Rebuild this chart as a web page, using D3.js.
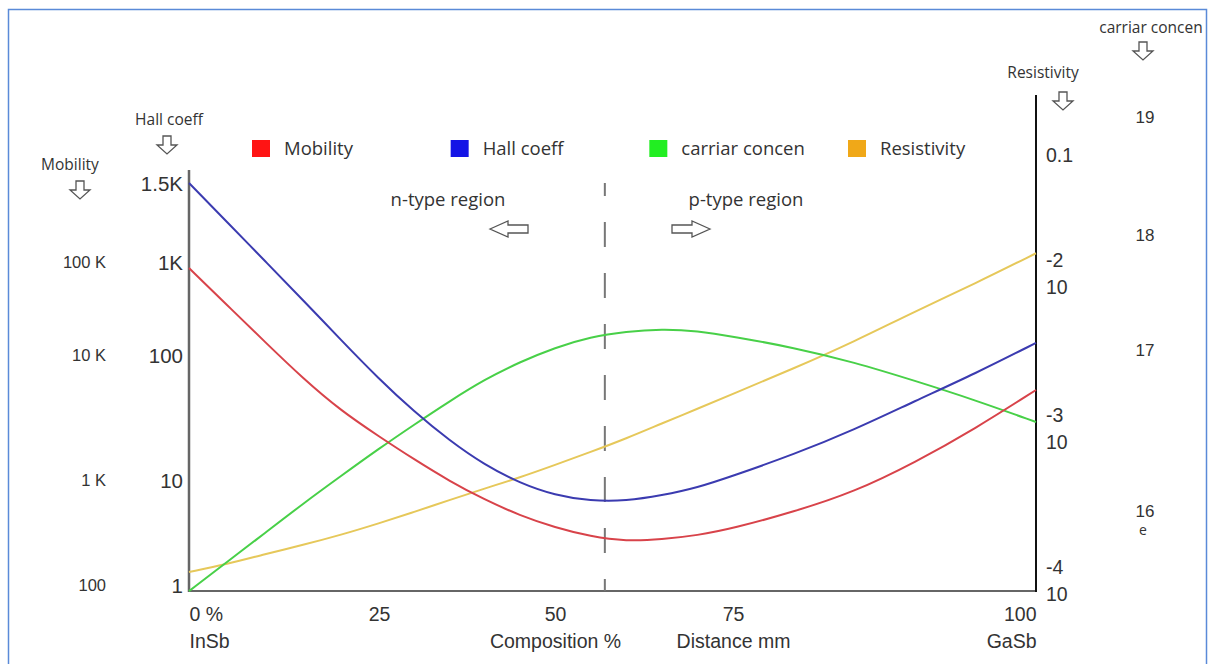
<!DOCTYPE html>
<html>
<head>
<meta charset="utf-8">
<script src="https://cdn.jsdelivr.net/npm/d3@7"></script>
<style>
  html, body { margin: 0; padding: 0; background: #fff; }
  svg { display: block; font-family: "Open Sans", "Noto Sans", sans-serif; }
  text { fill: #333; }
</style>
</head>
<body>
<svg id="chart" width="1208" height="664"></svg>
<script>
// ---------------- data ----------------
const composition = [0, 5, 10, 15, 20, 25, 30, 35, 40, 45, 50, 55, 60, 65, 70, 75, 80, 85, 90, 95, 100];
const mobility = [86100, 34500, 13800, 6490, 3580, 2230, 1460, 978, 649, 460, 353, 290, 261, 272, 297, 346, 498, 769, 1380, 2580, 5250];
const hallCoeff = [1500, 1228, 1005, 390, 145, 64.3, 35.2, 20.7, 13.2, 9.36, 7.15, 6.32, 6.32, 7.13, 8.45, 10.8, 16.0, 25.2, 42.8, 71.1, 135];
const carrierConc = [3.18e15, 4.82e15, 7.30e15, 1.11e16, 1.65e16, 2.44e16, 3.44e16, 4.80e16, 6.56e16, 8.42e16, 1.05e17, 1.30e17, 1.45e17, 1.52e17, 1.47e17, 1.31e17, 1.05e17, 8.40e16, 6.44e16, 4.88e16, 3.57e16];
const resistivity = [1.13e-4, 1.27e-4, 1.48e-4, 1.70e-4, 1.98e-4, 2.36e-4, 2.80e-4, 3.36e-4, 4.00e-4, 4.72e-4, 5.71e-4, 6.95e-4, 8.53e-4, 1.07e-3, 1.33e-3, 1.66e-3, 2.42e-3, 3.61e-3, 5.65e-3, 8.56e-3, 1.47e-2];
const boundary = 57;

const seriesNames = ["Mobility", "Hall coeff", "carriar concen", "Resistivity"];

const xTicks = [0, 25, 50, 75, 100];
const xTickLabels = ["0 %", "25", "50", "75", "100"];
const xSubLabels = ["InSb", "", "Composition %", "Distance mm", "GaSb"];

const hallTicks = [1, 10, 100, 1000, 1500];
const hallTickLabels = ["1", "10", "100", "1K", "1.5K"];
const mobTicks = [100, 1000, 10000, 100000];
const mobTickLabels = ["100", "1 K", "10 K", "100 K"];
const carrTicks = [1e16, 1e17, 1e18, 1e19];
const carrTickLabels = ["16", "17", "18", "19"];
const resTicks = [1e-4, 1e-3, 1e-2, 0.1];
const resTickBase = ["10", "10", "10", "0.1"];
const resTickExp = ["-4", "-3", "-2", ""];

// ---------------- layout ----------------
const L = 189, R = 1036, B = 591;
const legendColors = ["#ff1414", "#1414e6", "#22ee22", "#f0a818"];
const lineColors = ["#d8434a", "#3b3bb0", "#48d048", "#e6c85a"];

const svg = d3.select("#chart");

// frame
svg.append("rect").attr("x", 8.5).attr("y", 9.5).attr("width", 1198).attr("height", 700)
  .attr("fill", "none").attr("stroke", "#5a8ad8").attr("stroke-width", 1.5);

// scales (hand-drawn, piecewise axes)
const x = d3.scaleLinear().domain(xTicks).range([L, 379, 555, 733, R]);
const yHall = d3.scaleLog().domain(hallTicks).range([585, 480, 355, 262, 183]);
const yMob = d3.scaleLog().domain(mobTicks).range([585, 480, 355, 262]);
const yCarr = d3.scaleLog().domain(carrTicks).range([511, 350, 235, 117]);
const yRes = d3.scaleLog().domain(resTicks).range([580, 428, 273, 155]);

// axis lines
svg.append("line").attr("x1", L).attr("x2", L).attr("y1", 170).attr("y2", B + 1)
  .attr("stroke", "#666").attr("stroke-width", 2.5);
svg.append("line").attr("x1", L).attr("x2", R).attr("y1", B).attr("y2", B)
  .attr("stroke", "#666").attr("stroke-width", 2);
svg.append("line").attr("x1", R).attr("x2", R).attr("y1", 95).attr("y2", B + 1)
  .attr("stroke", "#111").attr("stroke-width", 2);

// boundary dashed line
svg.append("line").attr("x1", x(boundary)).attr("x2", x(boundary)).attr("y1", 183).attr("y2", B)
  .attr("stroke", "#777").attr("stroke-width", 2).attr("stroke-dasharray", "25,26").attr("stroke-dashoffset", 12);

// x axis
const xAxis = svg.append("g").attr("transform", `translate(0,${B})`)
  .call(d3.axisBottom(x).tickValues(xTicks).tickSize(0).tickFormat(""));
xAxis.select(".domain").remove();
xAxis.selectAll(".tick text").remove();
xAxis.selectAll(".tick").each(function(d, i) {
  const anchor = i === 0 ? "start" : (i === xTicks.length - 1 ? "end" : "middle");
  const g = d3.select(this);
  g.append("text").attr("y", 30).attr("text-anchor", anchor)
    .style("font-size", "19.5px").text(xTickLabels[i]);
  if (xSubLabels[i]) {
    g.append("text").attr("y", 57).attr("text-anchor", anchor)
      .style("font-size", "19.5px").text(xSubLabels[i]);
  }
});

// left axis: Hall coeff
const hallAxis = svg.append("g").attr("transform", `translate(${L - 6},0)`)
  .call(d3.axisLeft(yHall).tickValues(hallTicks).tickSize(0).tickFormat((d, i) => hallTickLabels[i]));
hallAxis.select(".domain").remove();
hallAxis.selectAll(".tick text").attr("x", 0).attr("dy", "0.35em")
  .style("font-size", "20.5px").style("fill", "#333").attr("font-family", null);

// outer left axis: Mobility
const mobAxis = svg.append("g").attr("transform", `translate(106,0)`)
  .call(d3.axisLeft(yMob).tickValues(mobTicks).tickSize(0).tickFormat((d, i) => mobTickLabels[i]));
mobAxis.select(".domain").remove();
mobAxis.selectAll(".tick text").attr("x", 0).attr("dy", "0.35em")
  .style("font-size", "16.5px").style("fill", "#333").attr("font-family", null);

// right axis: Resistivity
const resAxis = svg.append("g").attr("transform", `translate(${R + 10},0)`)
  .call(d3.axisRight(yRes).tickValues(resTicks).tickSize(0).tickFormat(""));
resAxis.select(".domain").remove();
resAxis.selectAll(".tick text").remove();
resAxis.selectAll(".tick").each(function(d, i) {
  const g = d3.select(this);
  if (resTickExp[i]) {
    g.append("text").attr("y", -13).attr("dy", "0.35em").style("font-size", "19.5px").text(resTickExp[i]);
    g.append("text").attr("y", 14).attr("dy", "0.35em").style("font-size", "19.5px").text(resTickBase[i]);
  } else {
    g.append("text").attr("y", 0).attr("dy", "0.35em").style("font-size", "19.5px").text(resTickBase[i]);
  }
});

// far right axis: carrier concentration (exponents)
const carrAxis = svg.append("g").attr("transform", `translate(1145,0)`)
  .call(d3.axisRight(yCarr).tickValues(carrTicks).tickSize(0).tickFormat((d, i) => carrTickLabels[i]));
carrAxis.select(".domain").remove();
carrAxis.selectAll(".tick text").attr("x", 0).attr("dy", "0.35em").attr("text-anchor", "middle")
  .style("font-size", "17px").style("fill", "#333").attr("font-family", null);
svg.append("text").attr("x", 1143).attr("y", yCarr(1e16) + 20).attr("dy", "0.3em")
  .attr("text-anchor", "middle").style("font-size", "14px").text("e");

// axis titles with hollow arrows
function downArrow(cx, ty) {
  svg.append("path")
    .attr("d", `M${cx - 4},${ty} L${cx + 4},${ty} L${cx + 4},${ty + 9} L${cx + 10},${ty + 9} L${cx},${ty + 18} L${cx - 10},${ty + 9} L${cx - 4},${ty + 9} Z`)
    .attr("fill", "#fff").attr("stroke", "#555").attr("stroke-width", 1.3).attr("stroke-linejoin", "miter");
}
function sideArrow(tipX, cy, dir) {
  const b = tipX - dir * 18, e = tipX - dir * 38;
  svg.append("path")
    .attr("d", `M${tipX},${cy} L${b},${cy - 8} L${b},${cy - 4} L${e},${cy - 4} L${e},${cy + 4} L${b},${cy + 4} L${b},${cy + 8} Z`)
    .attr("fill", "#fff").attr("stroke", "#555").attr("stroke-width", 1.3);
}
const titles = [
  { t: "Hall coeff", x: 169, y: 125, ax: 167, ay: 136 },
  { t: "Mobility", x: 70, y: 170, ax: 80, ay: 181 },
  { t: "Resistivity", x: 1043, y: 78, ax: 1063, ay: 92 },
  { t: "carriar concen", x: 1151, y: 33, ax: 1143, ay: 42 }
];
titles.forEach(d => {
  svg.append("text").attr("x", d.x).attr("y", d.y).attr("text-anchor", "middle")
    .style("font-size", "15.5px").text(d.t);
  downArrow(d.ax, d.ay);
});

// region labels
svg.append("text").attr("x", 448).attr("y", 206).attr("text-anchor", "middle").style("font-size", "18.5px").text("n-type region");
svg.append("text").attr("x", 746).attr("y", 206).attr("text-anchor", "middle").style("font-size", "18.5px").text("p-type region");
sideArrow(490, 229, -1);
sideArrow(710, 229, 1);

// legend
const legX = d3.scaleLinear().domain([0, 3]).range([252, 848]);
const leg = svg.append("g").selectAll("g").data(seriesNames).join("g")
  .attr("transform", (d, i) => `translate(${legX(i)},140)`);
leg.append("rect").attr("width", 18).attr("height", 17).attr("fill", (d, i) => legendColors[i]);
leg.append("text").attr("x", 32).attr("y", 15).style("font-size", "18.5px").text(d => d);

// curves
const seriesY = [
  { vals: mobility, scale: yMob },
  { vals: hallCoeff, scale: yHall },
  { vals: carrierConc, scale: yCarr },
  { vals: resistivity, scale: yRes }
];
const drawOrder = [3, 2, 0, 1];
drawOrder.forEach(k => {
  const s = seriesY[k];
  const line = d3.line().x((d, i) => x(composition[i])).y(d => s.scale(d)).curve(d3.curveBasis);
  svg.append("path").attr("d", line(s.vals)).attr("fill", "none")
    .attr("stroke", lineColors[k]).attr("stroke-width", 2);
});
</script>
</body>
</html>
